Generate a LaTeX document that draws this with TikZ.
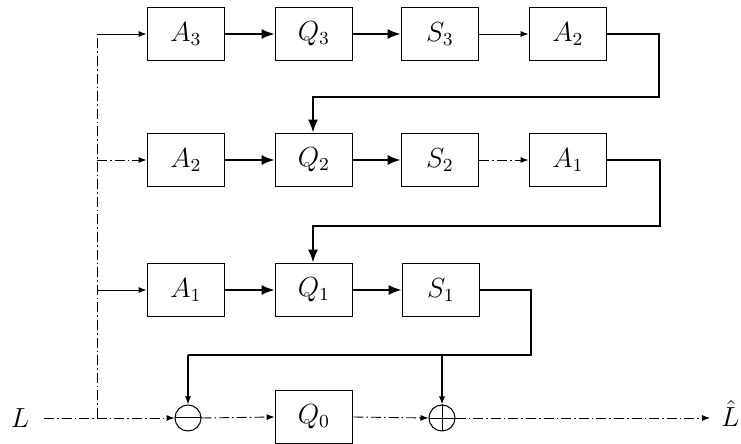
\documentclass[tikz,border=0pt]{standalone}
\usepackage{graphicx}
\usetikzlibrary{arrows.meta}
\newcommand\lbl[1]{\scalebox{1.15}{$#1$}}
\begin{document}
\begin{tikzpicture}[x=0.5pt,y=-0.5pt,
  blk/.style={draw,line width=0.9pt,minimum width=38.5pt,minimum height=26.5pt,inner sep=0pt,font=\large},
  sumc/.style={draw,circle,line width=0.5pt,minimum size=13pt,inner sep=0pt},
  thk/.style={line width=0.9pt,-{Latex[length=6.5pt,width=5pt]}},
  thn/.style={line width=0.45pt,-{Latex[length=4pt,width=3pt]}},
  dd/.style={dash pattern=on 5pt off 1.5pt on 0.8pt off 1.5pt},
  lab/.style={font=\large,inner sep=0pt}]
\useasboundingbox (0,0) rectangle (741,444);
% row 1
\node[blk] (A3) at (186,34) {\lbl{A_3}};
\node[blk] (Q3) at (314,34) {\lbl{Q_3}};
\node[blk] (S3) at (440,34) {\lbl{S_3}};
\node[blk] (A2t) at (568,34) {\lbl{A_2}};
% row 2
\node[blk] (A2) at (186,160) {\lbl{A_2}};
\node[blk] (Q2) at (314,160) {\lbl{Q_2}};
\node[blk] (S2) at (440,160) {\lbl{S_2}};
\node[blk] (A1t) at (568,160) {\lbl{A_1}};
% row 3
\node[blk] (A1) at (186,290) {\lbl{A_1}};
\node[blk] (Q1) at (314,290) {\lbl{Q_1}};
\node[blk] (S1) at (441,290) {\lbl{S_1}};
% bottom
\node[blk] (Q0) at (314,417) {\lbl{Q_0}};
\node[sumc] (mi) at (188,418) {};
\node[sumc] (pl) at (442,418) {};
\draw[line width=0.5pt] (mi.west) -- (mi.east);
\draw[line width=0.5pt] (pl.north) -- (pl.south);
\draw[line width=0.3pt] (pl.west) -- (pl.east);
\node[lab] (L) at (20,418) {\lbl{L}};
\node[lab,anchor=east] (Lh) at (740,413) {\lbl{\hat{L}}};
% coordinates
\coordinate (j0) at (97,418);
\coordinate (j1) at (97,34);
\coordinate (j2) at (97,160);
\coordinate (j3) at (97,290);
\coordinate (f1a) at (659,34);
\coordinate (f1b) at (659,97);
\coordinate (f1c) at (313,97);
\coordinate (f2a) at (660,160);
\coordinate (f2b) at (660,226);
\coordinate (f2c) at (313,226);
\coordinate (f3a) at (531,290);
\coordinate (f3b) at (531,355);
\coordinate (f3c) at (188,355);
\coordinate (f3d) at (442,355);
\coordinate (ls) at (44,418);
\coordinate (le) at (710,418);
% left feeding line
\draw[line width=0.4pt,dd] (j0) -- (j1);
\draw[thn] (j1) -- (A3.west);
\draw[thn,dd] (j2) -- (A2.west);
\draw[thn] (j3) -- (A1.west);
% row chains
\draw[thk] (A3) -- (Q3);
\draw[thk] (Q3) -- (S3);
\draw[thn] (S3) -- (A2t);
\draw[thk] (A2) -- (Q2);
\draw[thk] (Q2) -- (S2);
\draw[thn,dd] (S2) -- (A1t);
\draw[thk] (A1) -- (Q1);
\draw[thk] (Q1) -- (S1);
% feedbacks
\draw[thk] (A2t.east) -- (f1a) -- (f1b) -- (f1c) -- (Q2.north -| f1c);
\draw[thk] (A1t.east) -- (f2a) -- (f2b) -- (f2c) -- (Q1.north -| f2c);
\draw[line width=0.6pt] (S1.east) -- (f3a) -- (f3b) -- (f3c);
\draw[thn,line width=0.6pt] (f3c) -- (mi.north);
\draw[thn,line width=0.6pt] (f3d) -- (pl.north);
% main path
\draw[thn,dd] (ls) -- (mi.west);
\draw[thn,dd] (mi.east) -- (Q0.west);
\draw[thn,dd] (Q0.east) -- (pl.west);
\draw[thn,dd] (pl.east) -- (le);
\end{tikzpicture}
\end{document}
